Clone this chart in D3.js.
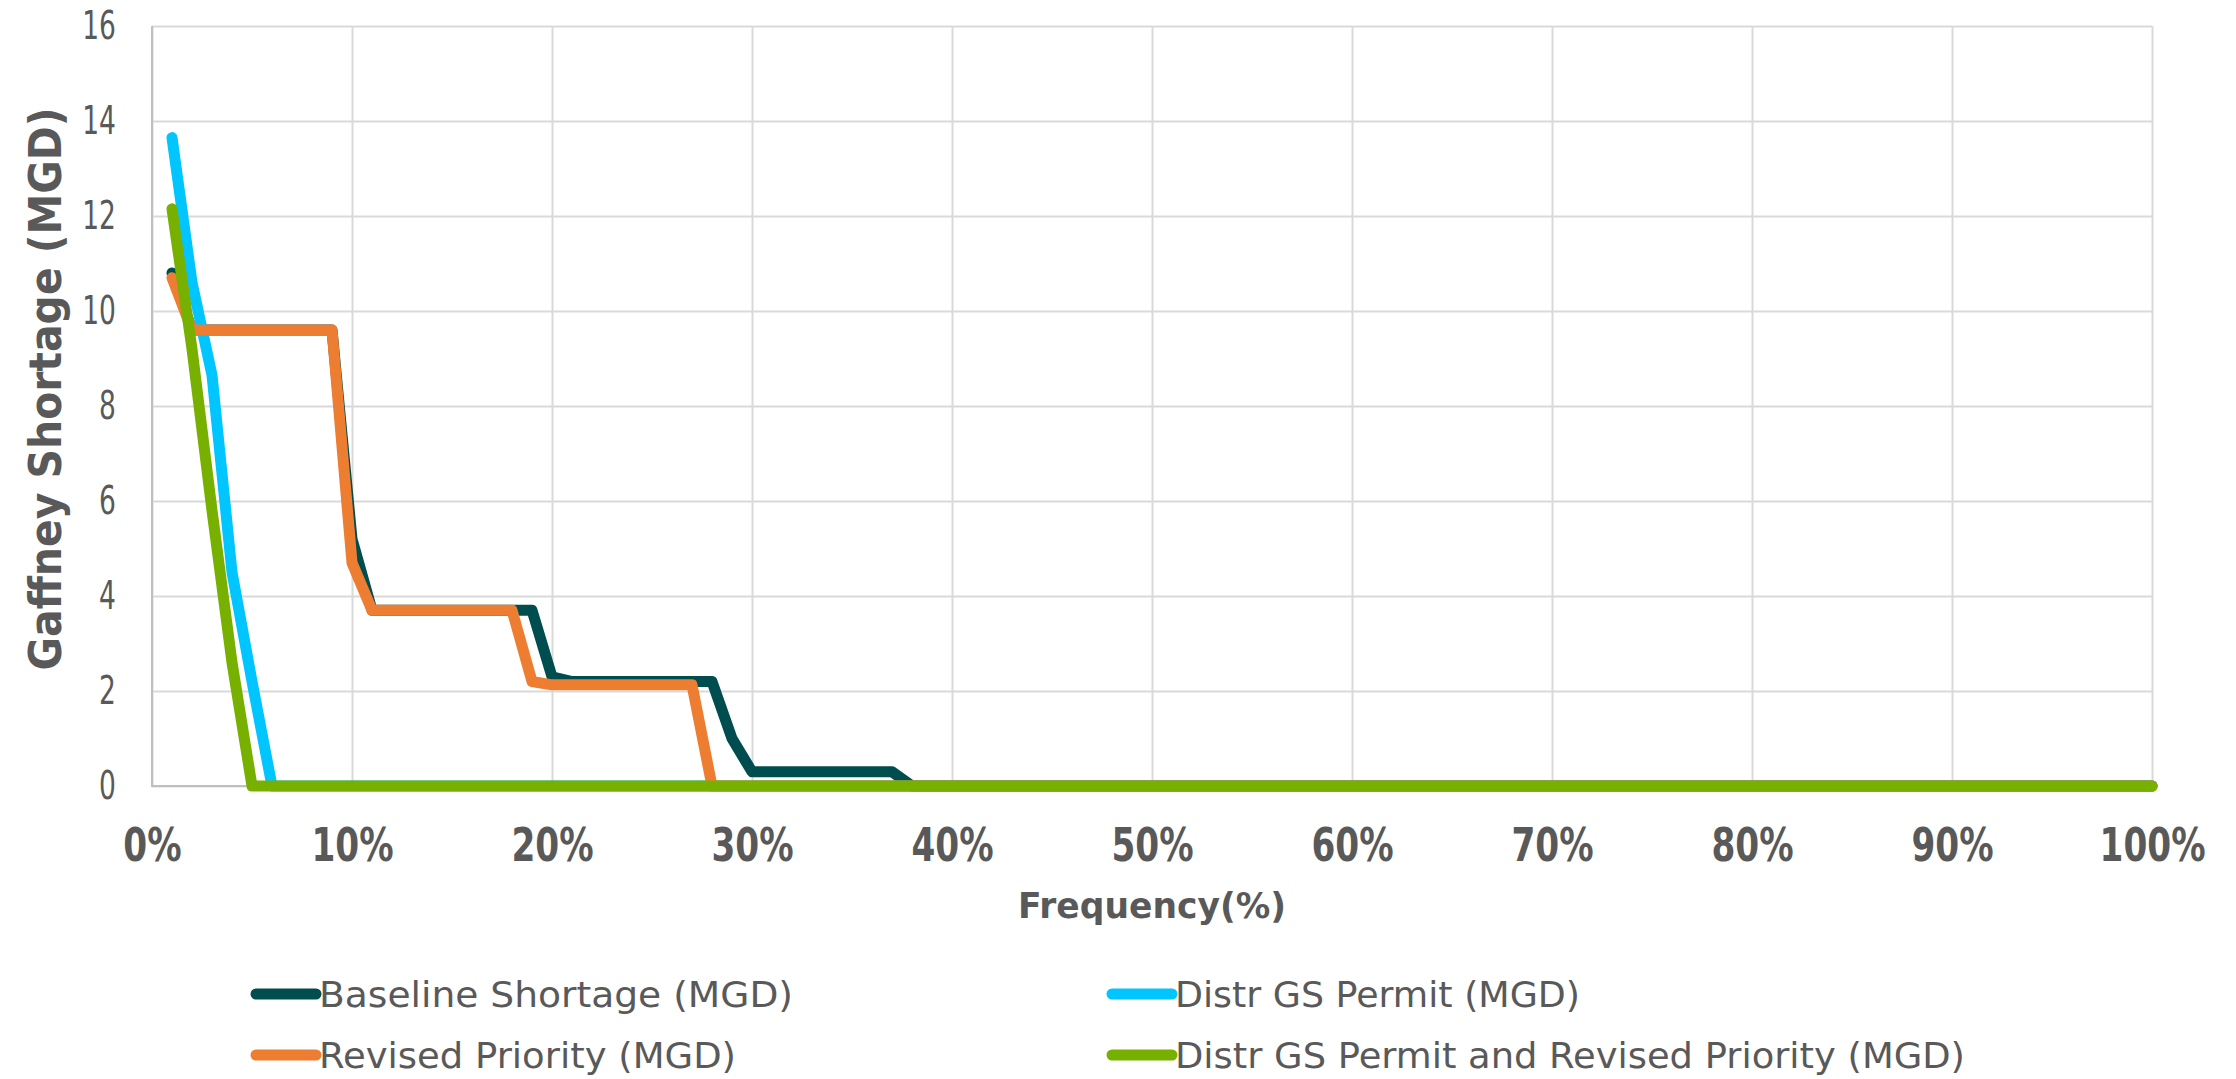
<!DOCTYPE html>
<html>
<head>
<meta charset="utf-8">
<script src="https://cdn.jsdelivr.net/npm/d3@7"></script>
<style>
  html, body { margin: 0; padding: 0; background: #fff; }
  svg { display: block; }
  text { font-family: "DejaVu Sans", "Noto Sans", sans-serif; fill: #595959; }
</style>
</head>
<body>
<svg id="chart" width="2236" height="1079"></svg>
<script>
// ---- Data ----
const frequency = [1,2,3,4,5,6,7,8,9,10,11,12,13,14,15,16,17,18,19,20,21,22,23,24,25,26,27,28,29,30,31,32,33,34,35,36,37,38,39,40,41,42,43,44,45,46,47,48,49,50,51,52,53,54,55,56,57,58,59,60,61,62,63,64,65,66,67,68,69,70,71,72,73,74,75,76,77,78,79,80,81,82,83,84,85,86,87,88,89,90,91,92,93,94,95,96,97,98,99,100];

const baselineShortage = [10.8,9.6,9.6,9.6,9.6,9.6,9.6,9.6,9.6,5.2,3.7,3.7,3.7,3.7,3.7,3.7,3.7,3.7,3.7,2.3,2.2,2.2,2.2,2.2,2.2,2.2,2.2,2.2,1.0,0.3,0.3,0.3,0.3,0.3,0.3,0.3,0.3,0,0,0,0,0,0,0,0,0,0,0,0,0,0,0,0,0,0,0,0,0,0,0,0,0,0,0,0,0,0,0,0,0,0,0,0,0,0,0,0,0,0,0,0,0,0,0,0,0,0,0,0,0,0,0,0,0,0,0,0,0,0,0];

const distrGSPermit = [13.65,10.6,8.65,4.5,2.2,0,0,0,0,0,0,0,0,0,0,0,0,0,0,0,0,0,0,0,0,0,0,0,0,0,0,0,0,0,0,0,0,0,0,0,0,0,0,0,0,0,0,0,0,0,0,0,0,0,0,0,0,0,0,0,0,0,0,0,0,0,0,0,0,0,0,0,0,0,0,0,0,0,0,0,0,0,0,0,0,0,0,0,0,0,0,0,0,0,0,0,0,0,0,0];

const revisedPriority = [10.7,9.6,9.6,9.6,9.6,9.6,9.6,9.6,9.6,4.7,3.7,3.7,3.7,3.7,3.7,3.7,3.7,3.7,2.2,2.13,2.13,2.13,2.13,2.13,2.13,2.13,2.13,0,0,0,0,0,0,0,0,0,0,0,0,0,0,0,0,0,0,0,0,0,0,0,0,0,0,0,0,0,0,0,0,0,0,0,0,0,0,0,0,0,0,0,0,0,0,0,0,0,0,0,0,0,0,0,0,0,0,0,0,0,0,0,0,0,0,0,0,0,0,0,0,0];

const distrGSPermitRevised = [12.15,9.2,5.8,2.6,0,0,0,0,0,0,0,0,0,0,0,0,0,0,0,0,0,0,0,0,0,0,0,0,0,0,0,0,0,0,0,0,0,0,0,0,0,0,0,0,0,0,0,0,0,0,0,0,0,0,0,0,0,0,0,0,0,0,0,0,0,0,0,0,0,0,0,0,0,0,0,0,0,0,0,0,0,0,0,0,0,0,0,0,0,0,0,0,0,0,0,0,0,0,0,0];

const seriesNames = ["Baseline Shortage (MGD)", "Distr GS Permit (MGD)", "Revised Priority (MGD)", "Distr GS Permit and Revised Priority (MGD)"];
const seriesColors = ["#004D50", "#00C5FF", "#ED7D31", "#78B000"];
const seriesValues = [baselineShortage, distrGSPermit, revisedPriority, distrGSPermitRevised];

const xTicks = [0,10,20,30,40,50,60,70,80,90,100];
const yTicks = [0,2,4,6,8,10,12,14,16];
const xTitle = "Frequency(%)";
const yTitle = "Gaffney Shortage (MGD)";

// ---- Layout ----
const svg = d3.select("#chart");
const L = 152, R = 2152, T = 26, B = 786;
const x = d3.scaleLinear().domain([0, 100]).range([L, R]);
const y = d3.scaleLinear().domain([0, 16]).range([B, T]);

// horizontally condense text (the original font is taller for its width)
function squeeze(sel, factor) {
  sel.each(function () {
    const w = this.getComputedTextLength();
    d3.select(this).attr("textLength", (w * factor).toFixed(2)).attr("lengthAdjust", "spacingAndGlyphs");
  });
}
function squeezeTo(sel, target) {
  const w = sel.node().getComputedTextLength();
  sel.attr("textLength", target).attr("lengthAdjust", "spacingAndGlyphs");
  return target / w;
}

// Y axis with horizontal gridlines
const yAxis = svg.append("g")
  .attr("transform", `translate(${L},0)`)
  .call(d3.axisLeft(y).tickValues(yTicks).tickSizeInner(-(R - L)).tickSizeOuter(0).tickPadding(36));
yAxis.select(".domain").remove();
yAxis.selectAll(".tick line").attr("stroke", "#D9D9D9").attr("stroke-width", 2);
const yTickText = yAxis.selectAll(".tick text")
  .attr("font-size", 39).attr("font-weight", "normal")
  .style("font-family", "'DejaVu Sans', sans-serif")
  .attr("fill", "#595959");
squeeze(yTickText, 0.68);

// X axis with vertical gridlines
const xAxis = svg.append("g")
  .attr("transform", `translate(0,${B})`)
  .call(d3.axisBottom(x).tickValues(xTicks).tickSizeInner(-(B - T)).tickSizeOuter(0).tickPadding(42).tickFormat(d => d + "%"));
xAxis.select(".domain").remove();
xAxis.selectAll(".tick line").attr("stroke", "#D9D9D9").attr("stroke-width", 2);
const xTickText = xAxis.selectAll(".tick text")
  .attr("font-size", 46).attr("font-weight", "bold")
  .style("font-family", "'DejaVu Sans', sans-serif")
  .attr("fill", "#595959");
{
  const last = xTickText.filter(d => d === 100);
  const f = 106 / last.node().getComputedTextLength();
  squeeze(xTickText, f);
}

// axis lines
svg.append("line").attr("x1", L).attr("x2", L).attr("y1", T).attr("y2", B + 1)
  .attr("stroke", "#BFBFBF").attr("stroke-width", 2);
svg.append("line").attr("x1", L).attr("x2", R).attr("y1", B).attr("y2", B)
  .attr("stroke", "#BFBFBF").attr("stroke-width", 2);

// Series lines
const line = d3.line().x((d, i) => x(frequency[i])).y(d => y(d));
seriesValues.forEach((vals, k) => {
  svg.append("path")
    .datum(vals)
    .attr("d", line)
    .attr("fill", "none")
    .attr("stroke", seriesColors[k])
    .attr("stroke-width", 11)
    .attr("stroke-linejoin", "round")
    .attr("stroke-linecap", "round");
});

// Axis titles
const xt = svg.append("text").text(xTitle)
  .attr("x", 1152).attr("y", 918)
  .attr("text-anchor", "middle")
  .attr("font-size", 36).attr("font-weight", "bold");
squeezeTo(xt, 268);

const yt = svg.append("text").text(yTitle)
  .attr("transform", `translate(61,389) rotate(-90)`)
  .attr("text-anchor", "middle")
  .attr("font-size", 44).attr("font-weight", "bold");
squeezeTo(yt, 563);

// Legend
const legendPos = [
  { lx: 256, ly: 994 },
  { lx: 1112, ly: 994 },
  { lx: 256, ly: 1055 },
  { lx: 1112, ly: 1055 }
];
const legendTextWidths = [474, 405, 417, 790];
seriesNames.forEach((name, k) => {
  const p = legendPos[k];
  svg.append("line")
    .attr("x1", p.lx).attr("x2", p.lx + 60)
    .attr("y1", p.ly).attr("y2", p.ly)
    .attr("stroke", seriesColors[k]).attr("stroke-width", 11)
    .attr("stroke-linecap", "round");
  const t = svg.append("text").text(name)
    .attr("x", p.lx + 63).attr("y", p.ly + 13)
    .attr("font-size", 36).attr("font-weight", "normal");
  squeezeTo(t, legendTextWidths[k]);
});
</script>
</body>
</html>
